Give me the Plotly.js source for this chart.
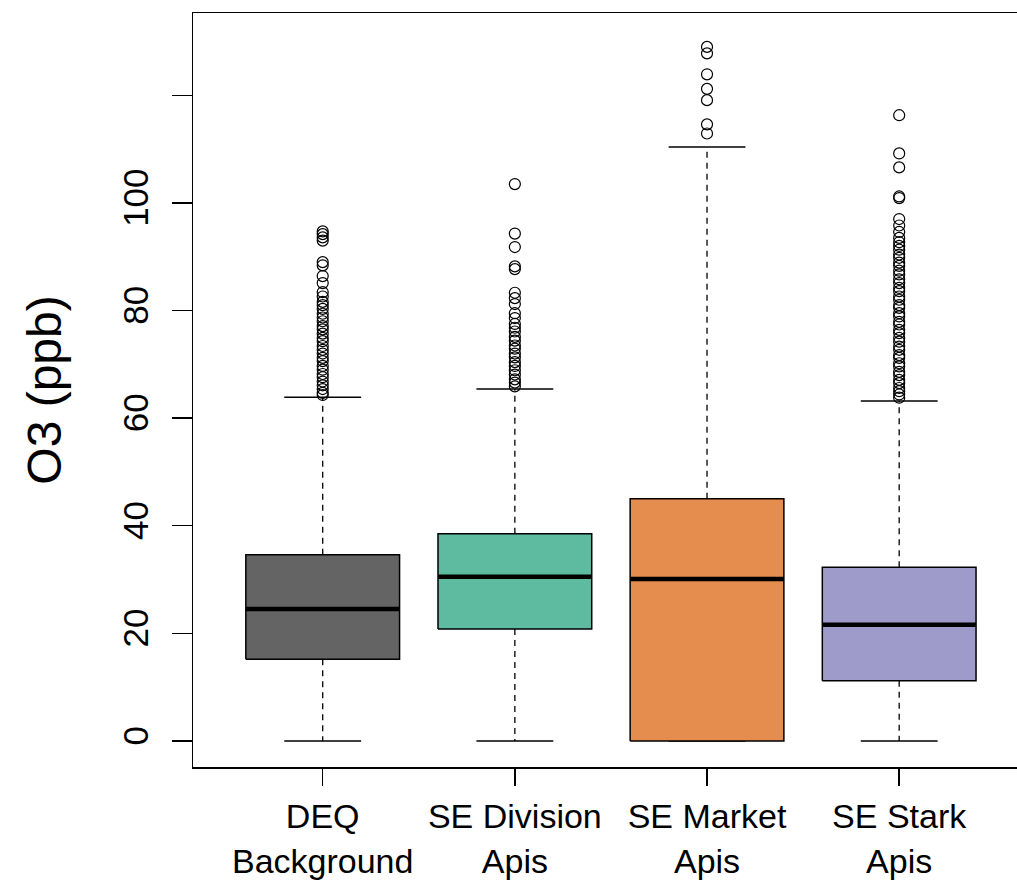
<!DOCTYPE html>
<html>
<head>
<meta charset="utf-8">
<script src="https://cdn.plot.ly/plotly-3.0.1.min.js"></script>
<style>
html,body{margin:0;padding:0;overflow:hidden;background:#fff;}
#wrap{width:1017px;height:884px;overflow:hidden;}
#chart{width:1040px;height:884px;}
</style>
</head>
<body>
<div id="wrap"><div id="chart"></div></div>
<script>
// ---- data ----
const categories = ["DEQ<br>Background", "SE Division<br>Apis", "SE Market<br>Apis", "SE Stark<br>Apis"];
const q1Values      = [15.2, 20.8, 0.0, 11.2];
const medianValues  = [24.5, 30.5, 30.1, 21.6];
const q3Values      = [34.6, 38.5, 45.0, 32.3];
const lowerWhiskers = [0.0, 0.0, 0.0, 0.0];
const upperWhiskers = [63.9, 65.4, 110.4, 63.2];
const boxColors     = ["#646464", "#5FBBA0", "#E48D4E", "#9E9BCA"];

const outliersDEQ = [94.7, 94.2, 93.6, 93.0, 89.0, 88.4, 86.4, 85.1, 83.4, 82.6, 81.6, 81.0, 80.3,
  79.4, 78.7, 78.0, 77.1, 76.5, 75.7, 74.9, 74.3, 73.4, 72.7, 72.0, 71.2, 70.6, 69.7, 69.0,
  68.2, 67.6, 66.8, 66.1, 65.4, 64.7, 64.3];
const outliersDivision = [103.5, 94.3, 91.8, 88.2, 87.7, 83.3, 82.3, 81.2, 79.5, 78.6, 77.5, 76.8,
  76.1, 75.1, 74.4, 73.5, 72.9, 72.0, 71.3, 70.4, 69.7, 68.9, 68.1, 67.2, 66.6, 65.9];
const outliersMarket = [129.0, 127.8, 123.9, 121.2, 119.1, 114.6, 112.9];
const outliersStark = [116.3, 109.2, 106.6, 101.2, 100.9, 97.0, 95.8, 94.6, 93.5, 92.7, 92.0, 91.3,
  90.4, 89.8, 88.9, 88.3, 87.4, 86.7, 85.8, 85.1, 84.2, 83.6, 82.6, 82.0, 81.0, 80.5, 79.5,
  78.9, 77.9, 77.4, 76.4, 75.8, 74.9, 74.2, 73.3, 72.7, 71.7, 71.2, 70.2, 69.6, 68.6, 68.0,
  67.1, 66.5, 65.6, 65.0, 64.4, 63.8];
const outlierGroups = [outliersDEQ, outliersDivision, outliersMarket, outliersStark];

const yTickVals = [0, 20, 40, 60, 80, 100, 120];
const yTickText = ["0", "20", "40", "60", "80", "100", ""];
const yTitle = "O3 (ppb)";

// ---- build traces ----
const halfBox = 0.4, halfStaple = 0.2;
const traces = [];
categories.forEach((c, i) => {
  const x = i + 1;
  traces.push({type: "scatter", mode: "lines", hoverinfo: "skip", showlegend: false,
    x: [x, x, null, x, x], y: [q3Values[i], upperWhiskers[i], null, q1Values[i], lowerWhiskers[i]],
    line: {color: "black", width: 1.3, dash: "6px,5px"}});
  traces.push({type: "scatter", mode: "lines", hoverinfo: "skip", showlegend: false,
    x: [x - halfStaple, x + halfStaple, null, x - halfStaple, x + halfStaple],
    y: [upperWhiskers[i], upperWhiskers[i], null, lowerWhiskers[i], lowerWhiskers[i]],
    line: {color: "black", width: 1.5}});
  traces.push({type: "scatter", mode: "lines", hoverinfo: "skip", showlegend: false,
    x: [x - halfBox, x + halfBox, x + halfBox, x - halfBox, x - halfBox],
    y: [q1Values[i], q1Values[i], q3Values[i], q3Values[i], q1Values[i]],
    fill: "toself", fillcolor: boxColors[i], line: {color: "black", width: 1.5}});
  traces.push({type: "scatter", mode: "lines", hoverinfo: "skip", showlegend: false,
    x: [x - halfBox, x + halfBox], y: [medianValues[i], medianValues[i]],
    line: {color: "black", width: 4.5}});
  traces.push({type: "scatter", mode: "markers", hoverinfo: "y", showlegend: false,
    x: outlierGroups[i].map(() => x), y: outlierGroups[i],
    marker: {symbol: "circle-open", size: 11, color: "black", line: {width: 1.2}}});
});

const fontFam = "Liberation Sans, Arial, sans-serif";
const layout = {
  width: 1040, height: 884,
  margin: {l: 193, r: 14, t: 13, b: 117},
  paper_bgcolor: "white", plot_bgcolor: "white",
  showlegend: false,
  font: {family: fontFam, color: "black"},
  xaxis: {
    range: [0.325, 4.66], tickvals: categories.map((c, i) => i + 1), ticktext: categories,
    showgrid: false, zeroline: false, showline: true, mirror: true, linecolor: "black", linewidth: 1.5,
    ticks: "outside", ticklen: 17, tickwidth: 1.5, tickcolor: "black",
    ticklabelstandoff: 2,
    tickfont: {size: 34, family: fontFam}
  },
  yaxis: {
    range: [-4.85, 135.3], tickvals: yTickVals, ticktext: yTickText, tickangle: -90,
    showgrid: false, zeroline: false, showline: true, mirror: true, linecolor: "black", linewidth: 1.5,
    ticks: "outside", ticklen: 20, tickwidth: 1.5, tickcolor: "black",
    ticklabelstandoff: 10,
    tickfont: {size: 35, family: fontFam},
    title: {text: yTitle, font: {size: 48, family: fontFam}, standoff: 38}
  }
};

Plotly.newPlot("chart", traces, layout, {displayModeBar: false, staticPlot: true});
</script>
</body>
</html>
